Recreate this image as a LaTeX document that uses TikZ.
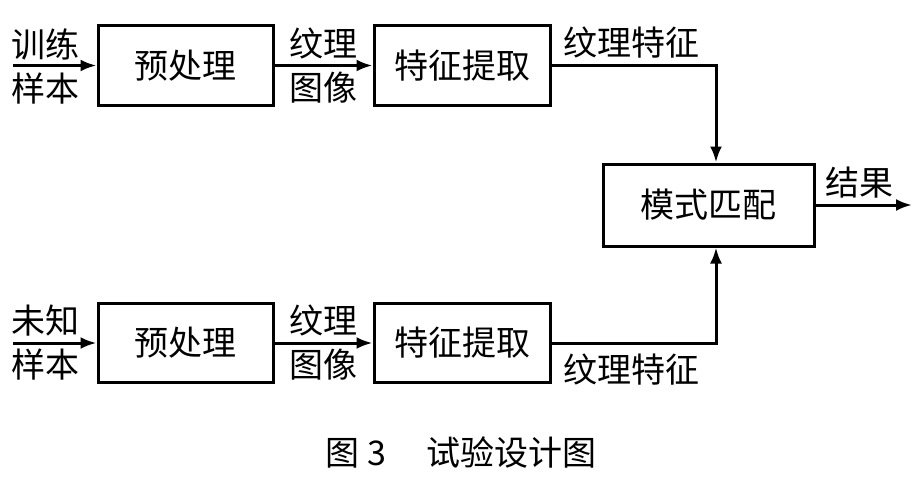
\documentclass[tikz,border=0pt]{standalone}
\usepackage{fontspec}
\setmainfont{Noto Sans CJK SC}
\usetikzlibrary{arrows.meta}
\tikzset{
  blk/.style={draw, line width=3pt, minimum width=175pt, minimum height=79pt, inner sep=0pt},
  lbl/.style={align=center, inner sep=0pt},
  arr/.style={line width=3pt, -{Latex[length=16pt,width=12pt]}},
}
\begin{document}
\begin{tikzpicture}[x=1pt, y=-1pt, font=\fontsize{34}{44}\selectfont]
  \useasboundingbox (0,0) rectangle (924,487);
  % blocks
  \node[blk] (pre1) at (185.5,65.5) {预处理};
  \node[blk, minimum width=176pt] (fe1) at (462,65.5) {特征提取};
  \node[blk, minimum width=211pt, minimum height=82pt] (match) at (708.5,205) {模式匹配};
  \node[blk] (pre2) at (185.5,343) {预处理};
  \node[blk, minimum width=176pt] (fe2) at (462,343) {特征提取};
  % labels
  \node[lbl] (in1) at (46,66) {训练\\样本};
  \node[lbl] (in2) at (46,343) {未知\\样本};
  \node[lbl] (img1) at (323.5,66) {纹理\\图像};
  \node[lbl] (img2) at (323.5,343) {纹理\\图像};
  \node[lbl] (feat1) at (631,43) {纹理特征};
  \node[lbl] (feat2) at (631,370) {纹理特征};
  \node[lbl] (res) at (859,183) {结果};
  \coordinate (s1) at (13,65.5);
  \coordinate (s2) at (13,343);
  \coordinate (out) at (912,205);
  % connectors
  \draw[arr] (s1) -- (pre1.west);
  \draw[arr] (pre1) -- (fe1);
  \draw[arr] (fe1.east) -| ([xshift=7.5pt]match.north);
  \draw[arr] (s2) -- (pre2.west);
  \draw[arr] (pre2) -- (fe2);
  \draw[arr] (fe2.east) -| ([xshift=7.5pt]match.south);
  \draw[arr] (match.east) -- (out);
  % caption
  \node[lbl] (cap) at (461,453) {图 3\hspace{40pt}试验设计图};
\end{tikzpicture}
\end{document}
